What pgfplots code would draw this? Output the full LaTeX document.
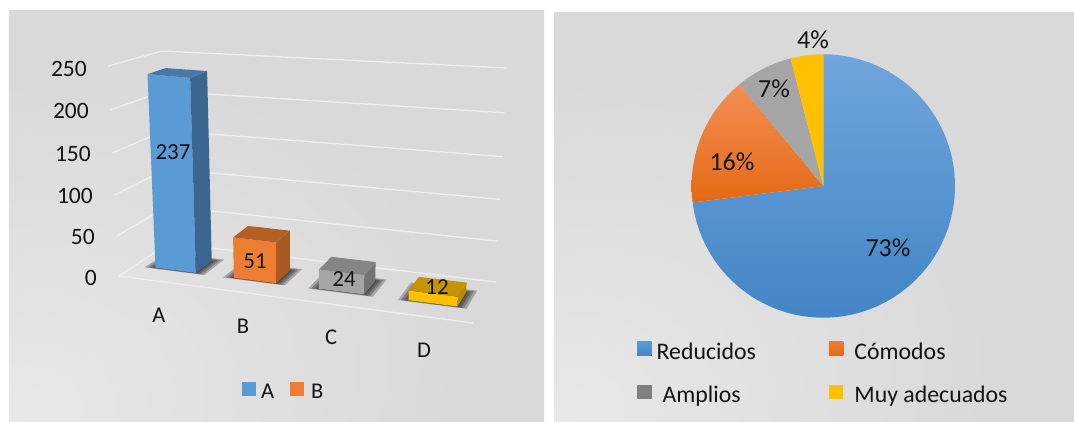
\documentclass[border=0pt]{standalone}
\usepackage{fontspec}
\setmainfont{Carlito}
\usepackage{pgfplots}
\usepackage{pgfplotstable}
\pgfplotsset{compat=1.18}

\definecolor{panelgray}{HTML}{D9D9D9}
\definecolor{panelglow}{HTML}{E8E8E8}
\definecolor{gridline}{HTML}{EEEEEE}
\definecolor{ink}{HTML}{141414}
\definecolor{blueF}{HTML}{5B9BD5}
\definecolor{blueS}{HTML}{3B668F}
\definecolor{blueT}{HTML}{4878A8}
\definecolor{orangeF}{HTML}{ED7D31}
\definecolor{orangeS}{HTML}{A85A22}
\definecolor{orangeT}{HTML}{B55F24}
\definecolor{grayF}{HTML}{A5A5A5}
\definecolor{grayS}{HTML}{737373}
\definecolor{grayT}{HTML}{858585}
\definecolor{goldF}{HTML}{FFC000}
\definecolor{goldS}{HTML}{B88A00}
\definecolor{goldT}{HTML}{C49500}
\definecolor{pieBlueTop}{HTML}{70A5DC}
\definecolor{pieBlueLow}{HTML}{4385C6}
\definecolor{pieOrangeTop}{HTML}{F48E55}
\definecolor{pieOrangeLow}{HTML}{E46A14}
\definecolor{keyGray}{HTML}{7F7F7F}

\pgfdeclareradialshading{panelshade}{\pgfpoint{-25bp}{-25bp}}{%
  color(0bp)=(panelglow); color(34bp)=(panelgray); color(100bp)=(panelgray)}

% Corners of each box face: a picks the left or right edge, d the front or
% back edge, h the floor or the top of the bar.
\pgfplotstableread{
a d h
0 0 0
1 0 0
1 0 1
0 0 1
}\faceFront
\pgfplotstableread{
a d h
1 0 0
1 1 0
1 1 1
1 0 1
}\faceSide
\pgfplotstableread{
a d h
0 0 1
1 0 1
1 1 1
0 1 1
}\faceTop
% Two walls meeting at the back left corner
\pgfplotstableread{
a d
0 0
0 1
1 1
}\wallLine
\pgfplotstableread{
a d
0 0
1 0
}\floorEdge

\newcommand{\shadowlayer}[3]{%
  \addplot[forget plot, fill=black, fill opacity=0.24, draw=none]
    table[x expr={wx(#1-#3+\thisrow{a}*(#2-#1+2*#3),0.33-#3+\thisrow{d}*(0.35+3.5*#3),0)},
          y expr={wy(#1-#3+\thisrow{a}*(#2-#1+2*#3),0.33-#3+\thisrow{d}*(0.35+3.5*#3),0)}]
    {\faceTop} -- cycle;}
% One box of the bar chart: t0, t1, value, three face colours, label position.
\newcommand{\threedbar}[8]{%
  \shadowlayer{#1}{#2}{0.028}\shadowlayer{#1}{#2}{0.02}%
  \shadowlayer{#1}{#2}{0.012}\shadowlayer{#1}{#2}{0.004}%
  \addplot[forget plot, fill=#4, draw=none]
    table[x expr={wx(#1+\thisrow{a}*(#2-#1),0.33+0.35*\thisrow{d},#3*\thisrow{h})},
          y expr={wy(#1+\thisrow{a}*(#2-#1),0.33+0.35*\thisrow{d},#3*\thisrow{h})}]
    {\faceFront} -- cycle;
  \addplot[forget plot, fill=#5, draw=none]
    table[x expr={wx(#1+\thisrow{a}*(#2-#1),0.33+0.35*\thisrow{d},#3*\thisrow{h})},
          y expr={wy(#1+\thisrow{a}*(#2-#1),0.33+0.35*\thisrow{d},#3*\thisrow{h})}]
    {\faceSide} -- cycle;
  \addplot[forget plot, fill=#6, draw=none]
    table[x expr={wx(#1+\thisrow{a}*(#2-#1),0.33+0.35*\thisrow{d},#3*\thisrow{h})},
          y expr={wy(#1+\thisrow{a}*(#2-#1),0.33+0.35*\thisrow{d},#3*\thisrow{h})}]
    {\faceTop} -- cycle;
  \node[text=ink, font=\fontsize{23}{23}\selectfont] at (axis cs:#7,#8) {#3};}
\newcommand{\wall}[1]{%
  \addplot[forget plot, gridline, line width=1.4pt]
    table[x expr={wx(\thisrow{a},\thisrow{d},#1)}, y expr={wy(\thisrow{a},\thisrow{d},#1)}]
    {\wallLine};}
\newcommand{\valuelabel}[3]{%
  \node[anchor=base east, inner sep=0pt, text=ink, font=\fontsize{23.5}{23.5}\selectfont]
    at (axis cs:#2,#3) {#1};}
\newcommand{\catlabel}[3]{%
  \node[text=ink, font=\fontsize{22.5}{22.5}\selectfont] at (axis cs:#2,#3) {#1};}

% One wedge of the pie, clockwise from twelve o'clock; arguments in percent.
\newcommand{\pieslice}[4]{%
  \addplot[forget plot, shade, top color=#3, bottom color=#4, draw=none, domain={3.6*#1}:{3.6*(#1+#2)}, samples=120]
    ({131.7*sin(x)},{131.7*cos(x)}) -- (axis cs:0,0) -- cycle;}
\newcommand{\pielabel}[3]{%
  \node[text=ink, font=\fontsize{26}{26}\selectfont] at (axis cs:#2,#3) {#1\%};}

\begin{document}
\begin{tikzpicture}[x=1pt,y=1pt]
\fill[white, use as bounding box] (0,0) rectangle (1074,421);

\begin{axis}[
  at={(9pt,0pt)}, anchor=south west, scale only axis, width=535pt, height=411pt,
  xmin=9, xmax=544, ymin=10, ymax=421, y dir=reverse,
  hide axis, clip=false, no markers,
  declare function={
    hgt(\vv)=\vv/250-0.058*(\vv/250)*(1-\vv/250);
    bil(\ua,\ub,\pa,\pb,\pc,\pd)=(1-\ub)*((1-\ua)*\pa+\ua*\pb)+\ub*((1-\ua)*\pc+\ua*\pd);
    wx(\ua,\ub,\vv)=(1-hgt(\vv))*bil(\ua,\ub,119,473,169,496)+hgt(\vv)*bil(\ua,\ub,108,484,162,507);
    wy(\ua,\ub,\vv)=(1-hgt(\vv))*bil(\ua,\ub,276,323,243,282)+hgt(\vv)*bil(\ua,\ub,66,105,51,68);
  },
  legend columns=2,
  legend image code/.code={\fill[#1, draw=none] (0pt,-4pt) rectangle (14pt,10pt);},
  legend style={draw=none, fill=none, inner sep=0pt, at={(0.4355,0.0705)}, anchor=west,
    font=\fontsize{22.5}{22.5}\selectfont, text=ink,
    /tikz/every even column/.append style={column sep=14pt}},
]
\path[shading=panelshade] (axis cs:9,10) rectangle (axis cs:544,421);

% Wall and floor lines
\wall{0}\wall{50}\wall{100}\wall{150}\wall{200}\wall{250}
\addplot[forget plot, gridline, line width=1.4pt]
  table[x expr={wx(\thisrow{a},0,0)}, y expr={wy(\thisrow{a},0,0)}] {\floorEdge};

\threedbar{0.058}{0.175}{237}{blueF}{blueS}{blueT}{173}{152}
\threedbar{0.285}{0.408}{51}{orangeF}{orangeS}{orangeT}{255}{261}
\threedbar{0.531}{0.662}{24}{grayF}{grayS}{grayT}{344}{279}
\threedbar{0.791}{0.933}{12}{goldF}{goldS}{goldT}{437}{287}

\valuelabel{250}{87}{76.7}
\valuelabel{200}{89}{118.7}
\valuelabel{150}{91}{161.7}
\valuelabel{100}{93}{203.7}
\valuelabel{50}{95}{244.7}
\valuelabel{0}{97}{285.7}

\catlabel{A}{159}{315}
\catlabel{B}{243}{326}
\catlabel{C}{331}{337}
\catlabel{D}{424}{350}

\addlegendimage{fill=blueF}\addlegendentry{\hspace*{3pt}A}
\addlegendimage{fill=orangeF}\addlegendentry{\hspace*{5pt}B}
\end{axis}

\begin{axis}[
  at={(554pt,0pt)}, anchor=south west, scale only axis, width=520pt, height=408pt,
  xmin=-269.3, xmax=250.7, ymin=-235, ymax=173,
  hide axis, clip=false, no markers,
  legend columns=2,
  legend cell align=left,
  legend image code/.code={\fill[#1, draw=none] (0pt,-3.5pt) rectangle (14.5pt,10.5pt);},
  legend style={draw=none, fill=none, inner sep=0pt, at={(0.1596,0.1164)}, anchor=west,
    font=\fontsize{23.8}{23.8}\selectfont, text=ink,
    /tikz/every even column/.append style={column sep=71pt},
    /tikz/row sep=21pt},
]
\path[shading=panelshade] (axis cs:-269.3,-235) rectangle (axis cs:250.7,173);

\pieslice{0}{73}{pieBlueTop}{pieBlueLow}
\pieslice{73}{16}{pieOrangeTop}{pieOrangeLow}
\pieslice{89}{7}{grayF}{grayF}
\pieslice{96}{4}{goldF}{goldF}

\pielabel{73}{64.7}{-62}
\pielabel{16}{-91.3}{24}
\pielabel{7}{-49.3}{97}
\pielabel{4}{-10.3}{146}

\addlegendimage{shade, top color=blueF, bottom color=pieBlueLow}\addlegendentry{\hspace*{3pt}Reducidos}
\addlegendimage{shade, top color=orangeF, bottom color=pieOrangeLow}\addlegendentry{\hspace*{9pt}Cómodos}
\addlegendimage{fill=keyGray}\addlegendentry{\hspace*{9pt}Amplios}
\addlegendimage{fill=goldF}\addlegendentry{\hspace*{9pt}Muy adecuados}
\end{axis}
\end{tikzpicture}
\end{document}
